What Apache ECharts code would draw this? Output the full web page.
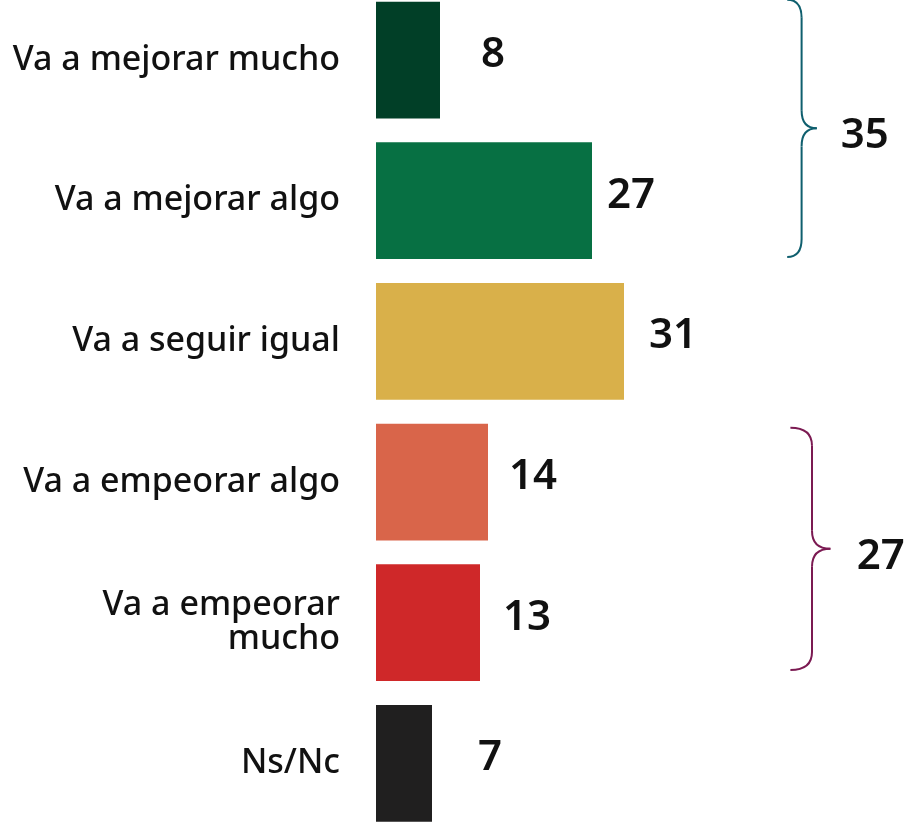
<!DOCTYPE html>
<html><head><meta charset="utf-8">
<script src="https://cdn.jsdelivr.net/npm/echarts@6/dist/echarts.min.js"></script>
<style>html,body{margin:0;padding:0;background:#fff}#c{width:908px;height:823px}</style>
</head><body><div id="c"></div>
<script>
const categories = ['Va a mejorar mucho','Va a mejorar algo','Va a seguir igual','Va a empeorar algo','Va a empeorar\nmucho','Ns/Nc'];
const values = [8, 27, 31, 14, 13, 7];
const barColors = ['#013f27','#077043','#d9b04a','#d9654a','#cf2829','#201f1f'];
const groupTotals = [35, 27];
const groupRanges = [[0,1],[3,4]];
const braceColors = ['#0f5f6e','#7b1a52'];
const labelGap = [41, 15, 25, 21, 23, 46];

const chart = echarts.init(document.getElementById('c'));
const FONT = '"Noto Sans", sans-serif';
chart.setOption({
  animation:false,
  grid:{left:376, right:0, top:-10.3, height:844, containLabel:false, outerBoundsMode:'none'},
  xAxis:{type:'value', min:0, max:66.5, show:false},
  yAxis:{type:'category', data:categories, inverse:true,
    axisLine:{show:false}, axisTick:{show:false},
    axisLabel:{margin:36, fontFamily:FONT, fontSize:34, fontWeight:500, color:'#111', lineHeight:34, align:'right'}},
  series:[{type:'bar', barCategoryGap:'17%',
    data: values.map((v,i)=>({value:v, itemStyle:{color:barColors[i]},
      label:{distance:labelGap[i]}})),
    label:{show:true, position:'right', fontFamily:FONT, fontSize:42, fontWeight:600, color:'#111', offset:[0,-5]}
  }]
});

function drawBraces(){
  const els = [];
  const braceX = [[51.4, 53.2, 55.1],[51.8, 54.5, 56.8]];
  const braceInset = [[-2, -2], [4, -11]];
  const totalX = [61.1, 63.1];
  groupRanges.forEach((r,g)=>{
    const c0 = chart.convertToPixel({yAxisIndex:0}, r[0]);
    const c1 = chart.convertToPixel({yAxisIndex:0}, r[1]);
    const band = chart.convertToPixel({yAxisIndex:0}, 1) - chart.convertToPixel({yAxisIndex:0}, 0);
    const half = band*0.83/2;
    const yT = c0 - half + braceInset[g][0], yB = c1 + half + braceInset[g][1], yM = (yT+yB)/2;
    const [x0,x1,x2] = braceX[g].map(v=>chart.convertToPixel({xAxisIndex:0}, v));
    const rr = 18;
    const st = {fill:null, stroke:braceColors[g], lineWidth:2};
    const curves = [
      [x0,yT,x1,yT+rr,x1,yT],
      [x1,yM-rr,x2,yM,x1,yM],
      [x2,yM,x1,yM+rr,x1,yM],
      [x1,yB-rr,x0,yB,x1,yB]
    ];
    curves.forEach(c=>els.push({type:'bezierCurve', shape:{x1:c[0],y1:c[1],x2:c[2],y2:c[3],cpx1:c[4],cpy1:c[5]}, style:st}));
    els.push({type:'line', shape:{x1:x1,y1:yT+rr,x2:x1,y2:yM-rr}, style:st});
    els.push({type:'line', shape:{x1:x1,y1:yM+rr,x2:x1,y2:yB-rr}, style:st});
    els.push({type:'text', x:chart.convertToPixel({xAxisIndex:0}, totalX[g]), y:yM+8,
      style:{text:String(groupTotals[g]), font:`600 42px ${FONT}`, fill:'#111', align:'center', verticalAlign:'middle'}});
  });
  chart.setOption({graphic:els});
}
drawBraces();
</script></body></html>
